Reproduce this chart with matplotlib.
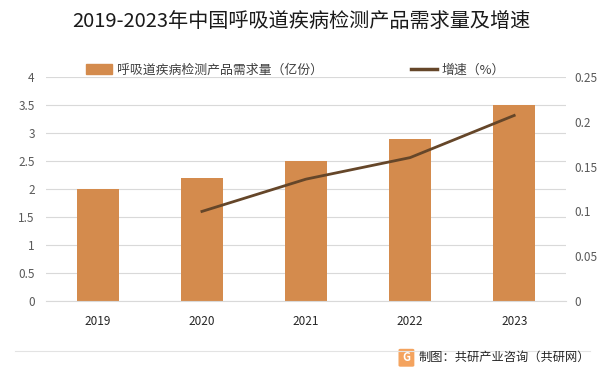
import numpy as np
import matplotlib.pyplot as plt
from matplotlib.patches import Patch, FancyBboxPatch
from matplotlib.lines import Line2D

plt.rcParams['font.family'] = ['Noto Sans CJK SC', 'DejaVu Sans']
plt.rcParams['axes.unicode_minus'] = False

# 数据
years = ['2019', '2020', '2021', '2022', '2023']
demand = [2.0, 2.2, 2.5, 2.9, 3.5]          # 亿份
growth_years = ['2020', '2021', '2022', '2023']
growth = [0.10, 0.136, 0.16, 0.207]

bar_color = '#D48B4D'
line_color = '#654629'
tick_color = '#595959'

fig = plt.figure(figsize=(6.03, 3.75), dpi=100)
ax = fig.add_axes([0.076, 0.197, 0.863, 0.598])
ax2 = ax.twinx()

x = np.arange(len(years))
ax.bar(x, demand, width=0.4, color=bar_color, zorder=2)
gx = [years.index(y) for y in growth_years]
ax2.plot(gx, growth, color=line_color, lw=2, zorder=3)

ax.set_xlim(-0.5, len(years) - 0.5)
ax.set_ylim(0, 4)
ax.set_yticks(np.arange(0, 4.01, 0.5))
ax.set_yticklabels(['0', '0.5', '1', '1.5', '2', '2.5', '3', '3.5', '4'])
ax2.set_ylim(0, 0.25)
ax2.set_yticks(np.arange(0, 0.251, 0.05))
ax2.set_yticklabels(['0', '0.05', '0.1', '0.15', '0.2', '0.25'])
ax.set_xticks(x)
ax.set_xticklabels(years)

ax.grid(axis='y', color='#D9D9D9', lw=0.8, zorder=0)
ax.set_axisbelow(True)
for a in (ax, ax2):
    for s in a.spines.values():
        s.set_visible(False)
    a.tick_params(length=0, labelsize=8.5, colors=tick_color)
ax.tick_params(axis='x', pad=10, colors='#262626', labelsize=8.5)
ax.tick_params(axis='y', pad=8)
ax2.tick_params(axis='y', pad=6)
ax.spines['bottom'].set_visible(True)
ax.spines['bottom'].set_color('#D9D9D9')

fig.text(0.5, 0.94, '2019-2023年中国呼吸道疾病检测产品需求量及增速',
         ha='center', va='center', fontsize=14.5, color='#1a1a1a')

handles = [Patch(color=bar_color), Line2D([0], [0], color=line_color, lw=2.5)]
labels = ['呼吸道疾病检测产品需求量（亿份）', '增速（%）']
fig.legend(handles, labels, loc='center', bbox_to_anchor=(0.49, 0.813), ncol=2,
           frameon=False, fontsize=9.3, columnspacing=6.8, handlelength=2.0,
           handleheight=0.8, handletextpad=0.4, labelcolor='#404040')

# 底部分隔线与来源
fig.add_artist(Line2D([0.025, 0.978], [0.063, 0.063], color='#E3E3E3', lw=0.8))
fig.text(0.978, 0.046, '制图：共研产业咨询（共研网）', ha='right', va='center',
         fontsize=8.8, color='#262626')
fig.add_artist(FancyBboxPatch((0.664, 0.026), 0.02, 0.04,
                              boxstyle='round,pad=0.002', color='#F4A35E',
                              transform=fig.transFigure))
fig.text(0.674, 0.046, 'G', ha='center', va='center', fontsize=8, color='white',
         fontweight='bold')

fig.savefig('out.png', dpi=100)
